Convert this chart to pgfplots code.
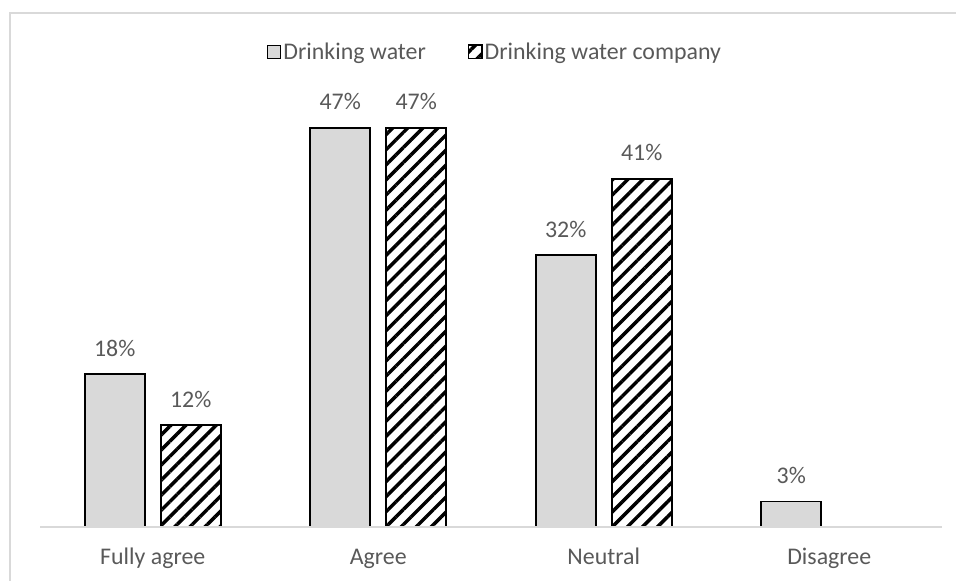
\documentclass[border=0pt]{standalone}
\usepackage{fontspec}
\setmainfont{Carlito}
\usepackage{pgfplots}
\pgfplotsset{compat=1.18}
\usetikzlibrary{patterns.meta}
\definecolor{bargray}{HTML}{D9D9D9}
\definecolor{txt}{HTML}{595959}
\newcommand{\chartfont}{\fontsize{17.9}{21}\selectfont}
\begin{document}
\begin{tikzpicture}
\useasboundingbox (0,0) rectangle (717pt,435.75pt);
\draw[bargray, line width=1.2pt] (7.5pt,-10pt) -- (7.5pt,426pt) -- (730pt,426pt);
\begin{axis}[
  at={(30pt,40.5pt)}, anchor=south west,
  scale only axis, width=676.5pt, height=318.4pt,
  ymin=0, ymax=50, xmin=-0.5, xmax=3.5,
  ybar=12pt, bar width=45pt,
  axis line style={draw=none},
  xtick={0,1,2,3},
  xticklabels={Fully agree, Agree, Neutral, Disagree},
  ytick=\empty,
  major tick length=0pt,
  /pgf/number format/assume math mode=true,
  xticklabel style={anchor=base, yshift=-28.5pt, font=\chartfont, text=txt},
  nodes near coords={\pgfmathprintnumber{\pgfplotspointmeta}\%},
  nodes near coords style={anchor=base, inner sep=0pt, yshift=13.5pt, font=\chartfont, text=txt},
  legend style={at={(rel axis cs:0.251,1.119)}, anchor=west, draw=none, fill=none,
    legend columns=2, font=\chartfont, text=txt,
    inner sep=0pt, nodes={inner sep=1.5pt},
    /tikz/every even column/.append style={column sep=30pt}},
  legend image code/.code={\draw[#1, line width=1.1pt] (0pt,-5pt) rectangle (10pt,5pt);},
  clip=false,
]
\addplot[fill=bargray, draw=black, line width=1.2pt] coordinates {(0,18) (1,47) (2,32) (3,3)};
\addplot[draw=black, line width=1.2pt, preaction={fill=white}, pattern={Lines[angle=45, distance=8pt, line width=2.6pt]}] coordinates {(0,12) (1,47) (2,41)};
\legend{Drinking water, Drinking water company}
\draw[bargray, line width=1.2pt] (rel axis cs:0,0) -- (rel axis cs:1,0);
\end{axis}
\end{tikzpicture}
\end{document}
